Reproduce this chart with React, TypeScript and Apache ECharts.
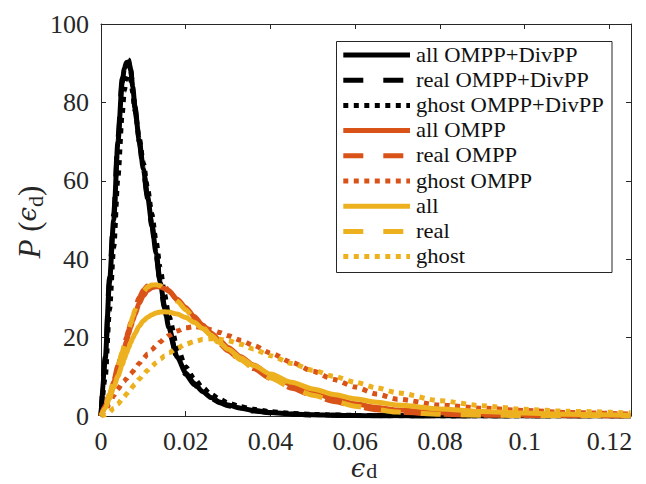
import React, { useEffect, useRef } from "react";
import * as echarts from "echarts";

const eps = [0, 0.001, 0.002, 0.003, 0.004, 0.005, 0.0055, 0.006, 0.0065, 0.007, 0.0075, 0.008, 0.009, 0.010, 0.011, 0.012, 0.013, 0.014, 0.015, 0.016, 0.018, 0.020, 0.022, 0.024, 0.026, 0.028, 0.030, 0.033, 0.036, 0.040, 0.045, 0.050, 0.055, 0.060, 0.065, 0.070, 0.080, 0.090, 0.100, 0.110, 0.125];

const allDiv = [0, 14.5, 34, 50, 70, 85, 88.6, 90.2, 90.3, 88.2, 84, 79, 70.5, 63, 56, 49, 41.5, 34, 28, 22.5, 15, 11, 8.3, 6.2, 4.7, 3.6, 2.8, 2.0, 1.4, 0.9, 0.5, 0.3, 0.18, 0.1, 0.06, 0.04, 0.02, 0.01, 0, 0, 0];
const realDiv = [0, 15, 35, 51.5, 71, 86, 89.5, 91, 90.8, 88.5, 84, 78.5, 70, 62.5, 55.5, 48.5, 41, 33.5, 27.5, 22, 14.6, 10.6, 8.0, 5.9, 4.5, 3.4, 2.6, 1.8, 1.3, 0.8, 0.45, 0.27, 0.16, 0.09, 0.05, 0.03, 0.015, 0.01, 0, 0, 0];
const ghostDiv = [0, 10, 27, 43, 61, 77, 83, 86, 87, 86.2, 82.5, 78, 71, 64.5, 58, 51.5, 44.5, 37.5, 31, 25.5, 17.5, 12.5, 9.5, 7.2, 5.5, 4.3, 3.3, 2.4, 1.7, 1.1, 0.65, 0.4, 0.25, 0.15, 0.1, 0.06, 0.03, 0.015, 0.01, 0, 0];
const allOMPP = [0, 2.4, 5.3, 8.6, 12.2, 15.7, 17.4, 19.1, 20.9, 22.6, 24.3, 25.9, 28.7, 30.7, 32, 32.7, 33, 32.9, 32.5, 31.8, 29.8, 27.7, 25.4, 23.2, 21.2, 19.3, 17.5, 15.1, 13, 10.5, 8, 6, 4.4, 3.1, 2.2, 1.5, 0.8, 0.45, 0.25, 0.15, 0.05];
const realOMPP = [0, 2.6, 5.6, 9, 12.8, 16.4, 18.2, 20, 21.9, 23.8, 25.6, 27.3, 30.2, 32.1, 33.2, 33.8, 34, 33.7, 33, 32, 29.6, 27.2, 24.8, 22.5, 20.4, 18.4, 16.6, 14.2, 12.1, 9.6, 7.1, 5.2, 3.7, 2.5, 1.6, 1.0, 0.45, 0.22, 0.1, 0.05, 0];
const ghostOMPP = [0, 1.3, 3.2, 5.2, 6.9, 8.3, 8.9, 9.5, 10.1, 10.7, 11.3, 12, 13.4, 14.7, 15.8, 16.9, 17.9, 18.9, 19.8, 20.5, 21.7, 22.5, 22.8, 22.6, 22, 21.3, 20.5, 19.3, 18, 16.1, 13.7, 11.4, 9.3, 7.4, 5.6, 4.3, 2.8, 2.0, 1.4, 0.9, 0.5];
const allPlain = [0, 2, 4.5, 7.3, 10.2, 13, 14.5, 16, 17.4, 18.7, 19.9, 21, 22.9, 24.3, 25.2, 25.8, 26.3, 26.5, 26.6, 26.5, 26, 25.1, 23.9, 22.3, 20.6, 18.7, 17, 14.8, 12.9, 10.7, 8.6, 6.9, 5.5, 4.4, 3.5, 2.8, 1.8, 1.15, 0.75, 0.45, 0.2];
const realPlain = [0, 2.5, 5.5, 8.9, 12.6, 16.2, 18, 19.8, 21.7, 23.5, 25.3, 27, 29.9, 31.8, 32.9, 33.4, 33.5, 33.2, 32.5, 31.6, 29.3, 27.1, 24.8, 22.6, 20.5, 18.5, 16.7, 14.3, 12.2, 9.7, 7.2, 5.3, 3.8, 2.5, 1.6, 1.0, 0.45, 0.22, 0.1, 0.05, 0];
const ghostPlain = [0, 0.3, 1.0, 2.0, 3.1, 4.3, 4.9, 5.6, 6.2, 6.9, 7.5, 8.1, 9.4, 10.6, 11.7, 12.7, 13.6, 14.5, 15.3, 16.1, 17.3, 18.3, 19.0, 19.5, 19.7, 19.6, 19.2, 18.3, 17.1, 15.4, 13.4, 11.7, 10.1, 8.6, 7.2, 5.9, 3.9, 2.6, 1.7, 1.2, 0.8];

const seriesNames = ["all OMPP+DivPP", "real OMPP+DivPP", "ghost OMPP+DivPP", "all OMPP", "real OMPP", "ghost OMPP", "all", "real", "ghost"];
const seriesValues = [allDiv, realDiv, ghostDiv, allOMPP, realOMPP, ghostOMPP, allPlain, realPlain, ghostPlain];
const seriesColors = ["#000000", "#000000", "#000000", "#D95319", "#D95319", "#D95319", "#EDB120", "#EDB120", "#EDB120"];
const seriesKinds = ["solid", "dashed", "dotted", "solid", "dashed", "dotted", "solid", "dashed", "dotted"];
const seriesDashOffsets = [0, 0, 0, 0, 0, 0, 0, 26, 0];

const xTicks = [0, 0.02, 0.04, 0.06, 0.08, 0.1, 0.12];
const yTicks = [0, 20, 40, 60, 80, 100];

const SERIF = "'Liberation Serif', 'DejaVu Serif', serif";
const GREEK = "'DejaVu Serif', serif";
const AXIS_COLOR = "#262626";
const LINE_W = 5;

function dashFor(kind: string): any {
  if (kind === "dashed") return [20, 20];
  if (kind === "dotted") return [5, 5.5];
  return null;
}

export default function App() {
  const ref = useRef<HTMLDivElement>(null);
  useEffect(() => {
    if (!ref.current) return;
    const chart = echarts.init(ref.current, null, { renderer: "svg" });
    const xFmt = (v: number) => {
      const hit = xTicks.find((t) => Math.abs(t - v) < 1e-9);
      return hit === undefined ? "" : String(hit);
    };
    const yFmt = (v: number) => {
      const hit = yTicks.find((t) => Math.abs(t - v) < 1e-9);
      return hit === undefined ? "" : String(hit);
    };
    const axisCommon = {
      axisLine: { show: true, onZero: false, lineStyle: { color: AXIS_COLOR, width: 1 } },
      axisTick: { show: true, inside: true, length: 5, lineStyle: { color: AXIS_COLOR, width: 1 } },
      splitLine: { show: false },
    };
    const series = seriesNames.map((name, k) => ({
      name,
      type: "line",
      data: eps.map((x, i) => [x, seriesValues[k][i]]),
      symbol: "none",
      showSymbol: false,
      smooth: 0.25,
      smoothMonotone: "x",
      xAxisIndex: 0,
      yAxisIndex: 0,
      lineStyle: {
        color: seriesColors[k],
        width: LINE_W,
        type: dashFor(seriesKinds[k]) || "solid",
        dashOffset: seriesDashOffsets[k],
        cap: "butt",
        join: "round",
      },
      itemStyle: { color: seriesColors[k] },
      z: 2,
    }));

    const legX = 336.5, legY = 41.5, legW = 275.5, legH = 231;
    const rowY0 = 55, rowStep = 25.2;
    const legendChildren: any[] = [
      {
        type: "rect",
        shape: { x: legX, y: legY, width: legW, height: legH },
        style: { fill: "#ffffff", stroke: AXIS_COLOR, lineWidth: 1 },
        z: 10,
      },
    ];
    seriesNames.forEach((name, k) => {
      const y = rowY0 + k * rowStep;
      const dash = dashFor(seriesKinds[k]);
      legendChildren.push({
        type: "line",
        shape: { x1: 343.3, y1: y, x2: 410, y2: y },
        style: { stroke: seriesColors[k], lineWidth: LINE_W, lineDash: dash || undefined, lineCap: "butt" },
        z: 11,
      });
      legendChildren.push({
        type: "text",
        x: 416,
        y: y,
        scaleX: 1.13,
        style: {
          text: name,
          fontFamily: SERIF,
          fontSize: 20,
          fill: "#111111",
          textAlign: "left",
          textVerticalAlign: "middle",
          verticalAlign: "middle",
        },
        z: 11,
      });
    });

    chart.setOption({
      animation: false,
      backgroundColor: "#ffffff",
      grid: { left: 101, top: 24, width: 530, height: 392, containLabel: false },
      xAxis: [
        {
          type: "value",
          position: "bottom",
          min: 0,
          max: 0.1251,
          interval: 0.02,
          ...axisCommon,
          axisLabel: {
            show: true,
            margin: 12,
            fontFamily: SERIF,
            fontSize: 26,
            color: "#262626",
            formatter: xFmt,
            showMaxLabel: false,
          },
        },
        {
          type: "value",
          position: "top",
          min: 0,
          max: 0.1251,
          interval: 0.02,
          ...axisCommon,
          axisLabel: { show: false },
        },
      ],
      yAxis: [
        {
          type: "value",
          position: "left",
          min: 0,
          max: 100,
          interval: 20,
          ...axisCommon,
          axisLabel: {
            show: true,
            margin: 12,
            fontFamily: SERIF,
            fontSize: 26,
            color: "#262626",
            formatter: yFmt,
          },
        },
        {
          type: "value",
          position: "right",
          min: 0,
          max: 100,
          interval: 20,
          ...axisCommon,
          axisLabel: { show: false },
        },
      ],
      graphic: [
        { type: "group", children: legendChildren },
        {
          type: "text",
          x: 364,
          y: 468,
          style: {
            text: "{e|ϵ}{d|d}",
            textAlign: "center",
            textVerticalAlign: "middle",
            verticalAlign: "middle",
            rich: {
              e: { fontFamily: GREEK, fontStyle: "italic", fontSize: 26, lineHeight: 26, verticalAlign: "top", fill: "#262626" },
              d: { fontFamily: SERIF, fontSize: 22, lineHeight: 22, verticalAlign: "bottom", padding: [8, 0, 0, 1], fill: "#262626" },
            },
          },
        },
        {
          type: "text",
          x: 30,
          y: 222,
          rotation: Math.PI / 2,
          style: {
            text: "{p|P}{t| (}{e|ϵ}{d|d}{t|)}",
            textAlign: "center",
            textVerticalAlign: "middle",
            verticalAlign: "middle",
            rich: {
              p: { fontFamily: SERIF, fontStyle: "italic", fontSize: 31, lineHeight: 32, verticalAlign: "top", fill: "#262626" },
              t: { fontFamily: SERIF, fontSize: 31, lineHeight: 32, verticalAlign: "top", fill: "#262626" },
              e: { fontFamily: GREEK, fontStyle: "italic", fontSize: 26, lineHeight: 32, verticalAlign: "top", fill: "#262626" },
              d: { fontFamily: SERIF, fontSize: 22, lineHeight: 22, verticalAlign: "bottom", padding: [16, 0, 0, 0], fill: "#262626" },
            },
          },
        },
      ],
      series,
    });
    return () => chart.dispose();
  }, []);
  return <div ref={ref} style={{ position: "absolute", left: 0, top: 0, width: 646, height: 484 }} />;
}
